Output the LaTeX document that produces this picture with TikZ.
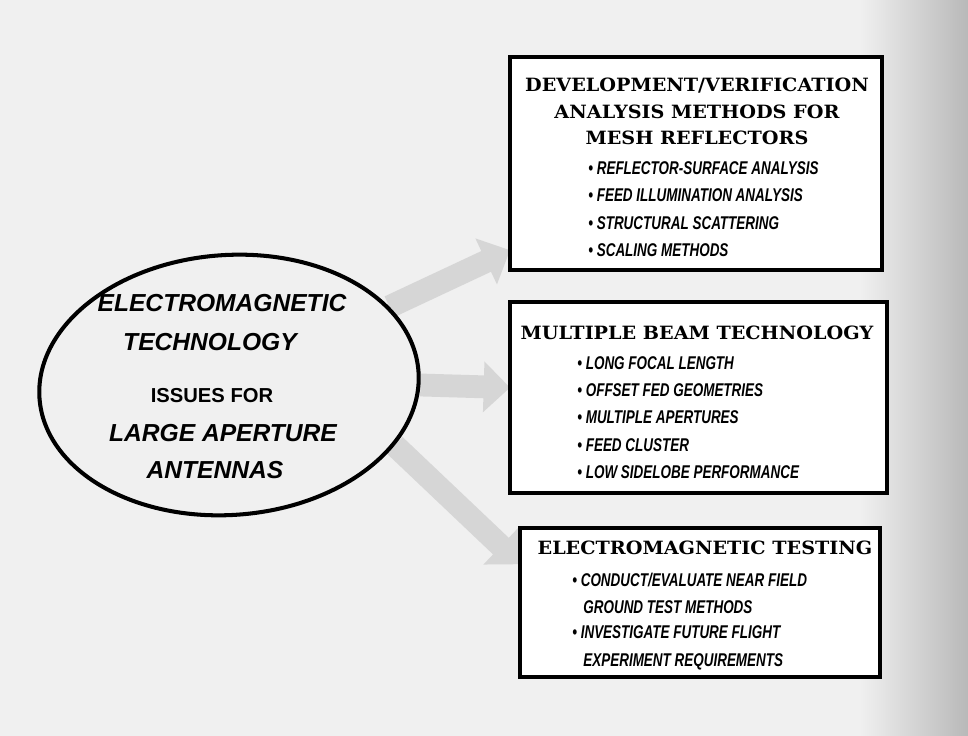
\documentclass[tikz,border=0pt]{standalone}
\usepackage{fontspec}
\setmainfont{Liberation Sans}
\newfontfamily\slabfont{DejaVu Serif}[FakeStretch=1.05]
\newfontfamily\handfont{Liberation Sans}[FakeStretch=0.73]
\usetikzlibrary{arrows.meta,shapes.geometric,backgrounds}

\begin{document}
\begin{tikzpicture}[
    x=0.02cm, y=-0.02cm,
    panel/.style={draw, line width=2.6pt, fill=white, inner sep=0pt, outer sep=0pt},
    headline/.style={anchor=base, inner sep=0pt, font=\slabfont\bfseries\fontsize{10.4}{12}\selectfont},
    item/.style={anchor=base west, inner sep=0pt, font=\handfont\bfseries\itshape\fontsize{10.5}{12}\selectfont},
    title/.style={anchor=base, inner sep=0pt, font=\bfseries\itshape\fontsize{14}{16}\selectfont},
    fatarrow/.style={-{Triangle[length=15pt,width=28pt]}, line width=13pt, gray!32},
    ]

    \useasboundingbox (0,0) rectangle (968,736);

    % central issue
    \node[draw, ellipse, line width=2.3pt, minimum width=7.6cm, minimum height=5.2cm,
        rotate=4] (issues) at (229,385) {};
    \foreach \i/\x/\y/\txt in {1/222/312/ELECTROMAGNETIC, 2/210/351/TECHNOLOGY,
                              4/223/442/LARGE APERTURE, 5/215/479/ANTENNAS}{
    \node[title] (issues-\i) at (\x,\y) {\txt};
    }
    \node[anchor=base, inner sep=0pt, font=\bfseries\fontsize{11.5}{13}\selectfont]
    (issues-3) at (212,403) {ISSUES FOR};

    % mesh reflectors
    \node[panel, minimum width=7.44cm, minimum height=4.26cm] (mesh) at (696,163.5) {};
    \foreach \y/\txt [count=\i] in {92/{DEVELOPMENT/VERIFICATION}, 119/ANALYSIS METHODS FOR,
                                    145/MESH REFLECTORS}{
    \node[headline] (mesh-head\i) at (697,\y) {\txt};
    }
    \foreach \y/\txt [count=\i] in {175/REFLECTOR-SURFACE ANALYSIS,
                                    202/FEED ILLUMINATION ANALYSIS,
                                    230/STRUCTURAL SCATTERING, 257/SCALING METHODS}{
    \node[item] (mesh-\i) at (588,\y) {\textbullet\ \txt};
    }

    % multiple beam
    \node[panel, minimum width=7.54cm, minimum height=3.82cm] (beam) at (698.5,397.5) {};
    \node[headline] (beam-head) at (697,340) {MULTIPLE BEAM TECHNOLOGY};
    \foreach \y/\txt [count=\i] in {370/LONG FOCAL LENGTH, 397/OFFSET FED GEOMETRIES,
                                    424/MULTIPLE APERTURES, 452/FEED CLUSTER,
                                    479/LOW SIDELOBE PERFORMANCE}{
    \node[item] (beam-\i) at (577,\y) {\textbullet\ \txt};
    }

    % testing
    \node[panel, minimum width=7.2cm, minimum height=2.98cm] (testing) at (700,602.5) {};
    \node[headline] (testing-head) at (705,555) {ELECTROMAGNETIC TESTING};
    \node[item] (testing-1) at (572,587) {\textbullet\ CONDUCT/EVALUATE NEAR FIELD};
    \node[item] (testing-2) at (583,614) {GROUND TEST METHODS};
    \node[item] (testing-3) at (572,639) {\textbullet\ INVESTIGATE FUTURE FLIGHT};
    \node[item] (testing-4) at (583,667) {EXPERIMENT REQUIREMENTS};

    \begin{scope}[on background layer]
    \fill[gray!12] (0,0) rectangle (968,736);
    \shade[left color=gray!12, right color=gray!55] (860,0) rectangle (968,736);
    \draw[fatarrow] (issues.22) -- (mesh.205);
    \draw[fatarrow] (issues.-4) -- (beam.177);
    \draw[fatarrow] (issues.-24) -- (testing.168);
    \end{scope}

\end{tikzpicture}
\end{document}
